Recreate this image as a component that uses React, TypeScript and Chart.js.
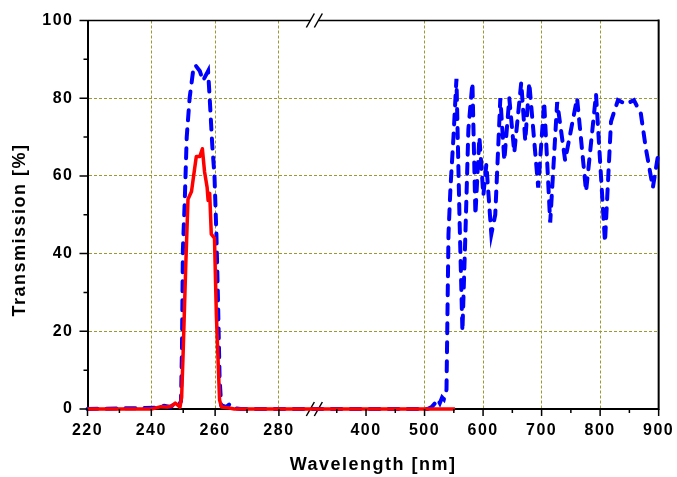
import React, { useEffect, useRef } from "react";
import { Chart, registerables } from "chart.js";

Chart.register(...registerables);

// ---- data (wavelength in nm, transmission in %) ----
const redWavelength = [220, 240, 241.5, 243, 245, 246.5, 247.5, 248.3, 249, 249.5, 250, 250.8, 251.5, 252.6, 253.1, 254.1, 255.2, 256.0, 256.7, 257.5, 257.8, 258.3, 258.8, 259.8, 260.4, 261.4, 262, 264, 266, 290, 320, 552];
const redTransmission = [0, 0, 0.3, 0.6, 0.5, 0.8, 1.5, 1.0, 0.5, 3, 15, 37, 54, 56, 59, 65, 65, 67, 61, 57, 53.7, 55.5, 45, 44, 24, 2.3, 0.5, 0.3, 0, 0, 0, 0];

const blueWavelength = [220, 241, 244, 246, 247.5, 248.5, 249.3, 249.6, 249.9, 250.5, 251.1, 252.0, 253.1, 253.8, 255.2, 256.2, 257.8, 258.3, 259.1, 259.8, 260.4, 260.9, 261.4, 261.9, 263.5, 264.5, 266, 268, 290,
  320, 505, 512, 518, 522, 526, 530, 533, 537.5, 540.9, 544.3, 549.4, 554.5, 559.6, 564.7, 569.8, 574.9, 581.8, 586.9, 593.7, 600.5, 605.6, 614.1, 620.8, 629.5, 636.3, 644.8, 653.3, 665.2, 672.1, 678.9, 694.2, 704.4, 714.7, 726.6, 740.2, 760.6, 776.0, 793.0, 808.3, 818.6, 830.5, 844.1, 857.7, 869.6, 878.2, 890.1, 898.6];
const blueTransmission = [0, 0.3, 0.8, 0.5, 1.5, 0.8, 2, 15, 41, 54, 70, 80, 87, 88.5, 87, 84.5, 87, 80, 68, 60, 45, 28, 8, 1, 0.5, 1.2, 0.2, 0, 0,
  0, 0, 0.5, 1.5, 2.5, 1.5, 3, 2.5, 5, 45, 57, 70, 85, 50, 20, 45, 72, 84, 50, 70, 55, 63, 45, 50, 80, 64, 80, 66, 84, 69, 84, 57, 79, 48, 79, 64, 80, 56, 81, 43, 74, 79.5, 78.5, 79.5, 76, 67, 57, 65];

// ---- axis ticks (nm / %) ----
const xMajorTicks = [220, 240, 260, 280, 400, 500, 600, 700, 800, 900];
const xMinorTicks = [230, 250, 270, 350, 450, 550, 650, 750, 850];
const xGridLines = [240, 260, 280, 500, 600, 700, 800];
const yMajorTicks = [0, 20, 40, 60, 80, 100];
const yMinorTicks = [10, 30, 50, 70, 90];
const yGridLines = [20, 40, 60, 80];
const yTitle = "Transmission [%]";
const xTitle = "Wavelength [nm]";

// ---- broken axis mapping ----
const LEFT_SEGMENT_END = 300; // nm, left part is linear in nm
const BREAK_POS = 291.1; // axis position of the "//" break
const RIGHT_REF_NM = 400;
const RIGHT_REF_POS = 307.3;
const RIGHT_RATIO = 0.18344;
function toAxis(nm: number): number {
  return nm <= LEFT_SEGMENT_END ? nm : RIGHT_REF_POS + (nm - RIGHT_REF_NM) * RIGHT_RATIO;
}
const near = (a: number, b: number) => Math.abs(a - b) < 1e-6;

const OLIVE = "#9a9a30";
const FONT_FAMILY = "'Liberation Sans', Arial, Helvetica, sans-serif";

const decorPlugin = {
  id: "decor",
  beforeDraw(chart: any) {
    chart.ctx.letterSpacing = "1.5px";
  },
  beforeDatasetsDraw(chart: any) {
    const { ctx, chartArea } = chart;
    const { left, right, top, bottom } = chartArea;
    const bx = chart.scales.x.getPixelForValue(BREAK_POS);
    ctx.save();
    ctx.strokeStyle = "#000";
    ctx.lineWidth = 1.5;
    ctx.beginPath();
    ctx.moveTo(left, top);
    ctx.lineTo(bx - 4, top);
    ctx.moveTo(bx + 4, top);
    ctx.lineTo(right, top);
    ctx.stroke();
    ctx.lineWidth = 2;
    ctx.beginPath();
    ctx.moveTo(right, top - 1);
    ctx.lineTo(right, bottom + 1);
    ctx.stroke();
    ctx.fillStyle = "#fff";
    ctx.fillRect(bx - 4, bottom - 2, 8, 4);
    ctx.lineWidth = 1.5;
    for (const y of [top, bottom]) {
      for (const dx of [-4, 4]) {
        ctx.beginPath();
        ctx.moveTo(bx + dx - 4, y + 7);
        ctx.lineTo(bx + dx + 4, y - 7);
        ctx.stroke();
      }
    }
    ctx.restore();
  },
  afterDraw(chart: any) {
    const { ctx, chartArea, scales } = chart;
    const { left, bottom } = chartArea;
    ctx.save();
    ctx.strokeStyle = "#000";
    ctx.lineWidth = 1.5;
    ctx.beginPath();
    for (const v of xMajorTicks) {
      const px = scales.x.getPixelForValue(toAxis(v));
      ctx.moveTo(px, bottom);
      ctx.lineTo(px, bottom + 7);
    }
    for (const v of xMinorTicks) {
      const px = scales.x.getPixelForValue(toAxis(v));
      ctx.moveTo(px, bottom);
      ctx.lineTo(px, bottom + 4);
    }
    for (const v of yMajorTicks) {
      const py = scales.y.getPixelForValue(v);
      ctx.moveTo(left, py);
      ctx.lineTo(left - 8, py);
    }
    for (const v of yMinorTicks) {
      const py = scales.y.getPixelForValue(v);
      ctx.moveTo(left, py);
      ctx.lineTo(left - 4, py);
    }
    ctx.stroke();
    // y-axis title
    ctx.translate(20, 230);
    ctx.rotate(-Math.PI / 2);
    ctx.fillStyle = "#000";
    ctx.font = "bold 18px " + FONT_FAMILY;
    ctx.textAlign = "center";
    ctx.textBaseline = "middle";
    ctx.letterSpacing = "1.5px";
    ctx.fillText(yTitle, 0, 0);
    ctx.restore();
    ctx.letterSpacing = "0px";
  },
};

export default function App() {
  const ref = useRef<HTMLCanvasElement | null>(null);
  useEffect(() => {
    document.body.style.margin = "0";
    const canvas = ref.current!;
    const chart = new Chart(canvas, {
      type: "line",
      data: {
        datasets: [
          {
            label: "red",
            data: redWavelength.map((w, i) => ({ x: toAxis(w), y: redTransmission[i] })),
            borderColor: "#ff0000",
            borderWidth: 3.5,
            pointRadius: 0,
            tension: 0,
            fill: false,
            borderJoinStyle: "round",
            clip: false,
          },
          {
            label: "blue",
            data: blueWavelength.map((w, i) => ({ x: toAxis(w), y: blueTransmission[i] })),
            borderColor: "#0000ff",
            borderWidth: 4,
            borderDash: [10, 9],
            borderCapStyle: "round",
            pointRadius: 0,
            tension: 0,
            fill: false,
            clip: false,
          },
        ],
      },
      options: {
        animation: false,
        responsive: false,
        devicePixelRatio: 1,
        layout: { padding: { left: 0, top: 20.5, right: 16.3, bottom: 0 } },
        plugins: { legend: { display: false }, tooltip: { enabled: false } },
        scales: {
          x: {
            type: "linear",
            min: 220,
            max: toAxis(900),
            afterBuildTicks: (scale: any) => {
              scale.ticks = [...xMajorTicks, ...xMinorTicks]
                .map((v) => toAxis(v))
                .sort((a, b) => a - b)
                .map((v) => ({ value: v }));
            },
            afterFit: (scale: any) => {
              scale.height = 68;
            },
            ticks: {
              autoSkip: false,
              maxRotation: 0,
              minRotation: 0,
              padding: 5,
              color: "#000",
              font: { family: FONT_FAMILY, size: 16, weight: "bold" },
              callback: (value: any) => {
                const nm = xMajorTicks.find((n) => near(toAxis(n), Number(value)));
                return nm === undefined ? "" : String(nm);
              },
            },
            grid: {
              color: (c: any) =>
                c.tick && xGridLines.some((n) => near(toAxis(n), c.tick.value)) ? OLIVE : "rgba(0,0,0,0)",
              lineWidth: 1,
              tickLength: 7,
              tickColor: "rgba(0,0,0,0)",
            },
            border: { display: true, color: "#000", width: 2, dash: [3, 2] },
            title: {
              display: true,
              text: xTitle,
              color: "#000",
              font: { family: FONT_FAMILY, size: 18, weight: "bold" },
              padding: { top: 0, bottom: 1 },
            },
          },
          y: {
            min: 0,
            max: 100,
            afterBuildTicks: (scale: any) => {
              scale.ticks = [...yMajorTicks, ...yMinorTicks].sort((a, b) => a - b).map((v) => ({ value: v }));
            },
            afterFit: (scale: any) => {
              scale.width = 87.5;
            },
            ticks: {
              autoSkip: false,
              padding: 6,
              color: "#000",
              font: { family: FONT_FAMILY, size: 16, weight: "bold" },
              callback: (value: any) => (yMajorTicks.includes(Number(value)) ? String(value) : ""),
            },
            grid: {
              color: (c: any) => (c.tick && yGridLines.includes(c.tick.value) ? OLIVE : "rgba(0,0,0,0)"),
              lineWidth: 1,
              tickLength: 8,
              tickColor: "rgba(0,0,0,0)",
            },
            border: { display: true, color: "#000", width: 2, dash: [3, 2] },
            title: { display: false },
          },
        },
      },
      plugins: [decorPlugin],
    } as any);
    return () => chart.destroy();
  }, []);
  return (
    <div style={{ position: "absolute", left: 0, top: 0, width: 677, height: 477 }}>
      <canvas ref={ref} width={677} height={477} style={{ display: "block" }} />
    </div>
  );
}
